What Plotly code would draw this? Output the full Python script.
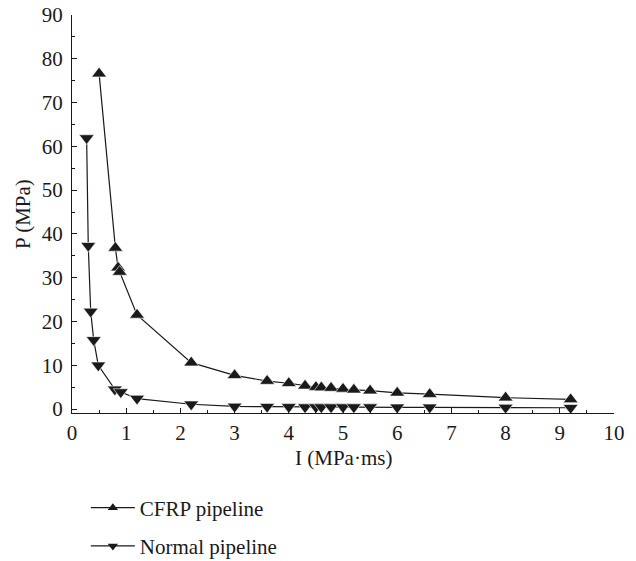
import plotly.graph_objects as go

# Impulse I (MPa·ms) and peak pressure P (MPa) for both pipeline types
cfrp_i = [0.50, 0.80, 0.85, 0.88, 1.20, 2.20, 3.00, 3.60, 4.00, 4.30, 4.50, 4.60,
          4.78, 5.00, 5.20, 5.50, 6.00, 6.60, 8.00, 9.20]
cfrp_p = [76.6, 36.8, 32.3, 31.3, 21.5, 10.6, 7.7, 6.4, 5.9, 5.3, 5.0, 4.9,
          4.8, 4.6, 4.4, 4.2, 3.7, 3.4, 2.6, 2.2]

normal_i = [0.27, 0.30, 0.345, 0.40, 0.485, 0.79, 0.90, 1.20, 2.20, 3.00, 3.60, 4.00,
            4.30, 4.50, 4.60, 4.78, 5.00, 5.20, 5.50, 6.00, 6.60, 8.00, 9.20]
normal_p = [61.9, 37.3, 22.3, 15.8, 10.0, 4.5, 3.9, 2.4, 1.1, 0.6, 0.55, 0.5,
            0.45, 0.45, 0.45, 0.45, 0.45, 0.45, 0.45, 0.4, 0.4, 0.35, 0.3]

series_names = ["CFRP pipeline", "Normal pipeline"]
x_ticks = list(range(0, 11))
y_ticks = list(range(0, 91, 10))
x_title = "I (MPa·ms)"
y_title = "P (MPa)"

FONT = "Liberation Serif, Times New Roman, serif"
FS = 21
BLACK = "#1a1a1a"

fig = go.Figure()

# plotted curves
for xs, ys, sym in [(cfrp_i, cfrp_p, "triangle-up"), (normal_i, normal_p, "triangle-down")]:
    fig.add_trace(go.Scatter(
        x=xs, y=ys, mode="lines+markers", showlegend=False,
        line=dict(color=BLACK, width=1.2),
        marker=dict(symbol=sym, size=13, color=BLACK, line=dict(color="white", width=0.6)),
    ))

# legend entries with smaller symbols
for name, sym, grp in [(series_names[0], "triangle-up", "a"), (series_names[1], "triangle-down", "b")]:
    fig.add_trace(go.Scatter(
        x=[None], y=[None], mode="lines+markers", name=name, legendgroup=grp,
        line=dict(color=BLACK, width=1.2),
        marker=dict(symbol=sym, size=9, color=BLACK),
    ))

axis_common = dict(
    showline=True, linecolor=BLACK, linewidth=1.3, mirror=False,
    showgrid=False, zeroline=False, automargin=False,
    ticks="inside", ticklen=5, tickwidth=1.2, tickcolor=BLACK,
    tickfont=dict(family=FONT, size=FS, color=BLACK),
)

fig.update_xaxes(
    range=[0, 10], tickvals=x_ticks, ticktext=[str(v) for v in x_ticks],
    minor=dict(ticks="inside", ticklen=3, tickwidth=1, tickcolor=BLACK, dtick=0.5, showgrid=False),
    ticklabelstandoff=1,
    **axis_common,
)
fig.update_yaxes(
    range=[-0.9, 90], tickvals=y_ticks, ticktext=[str(v) for v in y_ticks],
    minor=dict(ticks="inside", ticklen=3, tickwidth=1, tickcolor=BLACK, dtick=5, tick0=0, showgrid=False),
    ticklabelstandoff=4,
    **axis_common,
)

# axis titles
fig.add_annotation(text=x_title, xref="paper", yref="paper", x=0.5, y=-0.113,
                   xanchor="center", yanchor="middle", showarrow=False,
                   font=dict(family=FONT, size=FS, color=BLACK))
fig.add_annotation(text=y_title, xref="paper", yref="paper", x=-0.0904, y=0.5,
                   xanchor="center", yanchor="middle", textangle=-90, showarrow=False,
                   font=dict(family=FONT, size=FS, color=BLACK))

fig.update_layout(
    width=636, height=561,
    margin=dict(l=72, r=22, t=15, b=148, autoexpand=False),
    paper_bgcolor="white", plot_bgcolor="white",
    font=dict(family=FONT, size=FS, color=BLACK),
    legend=dict(
        xref="container", yref="container",
        x=0.135, y=0.131, xanchor="left", yanchor="top",
        traceorder="grouped", tracegroupgap=8, itemwidth=44,
        font=dict(family=FONT, size=FS, color=BLACK),
        bgcolor="rgba(0,0,0,0)",
    ),
)

fig.write_html("out.html")
